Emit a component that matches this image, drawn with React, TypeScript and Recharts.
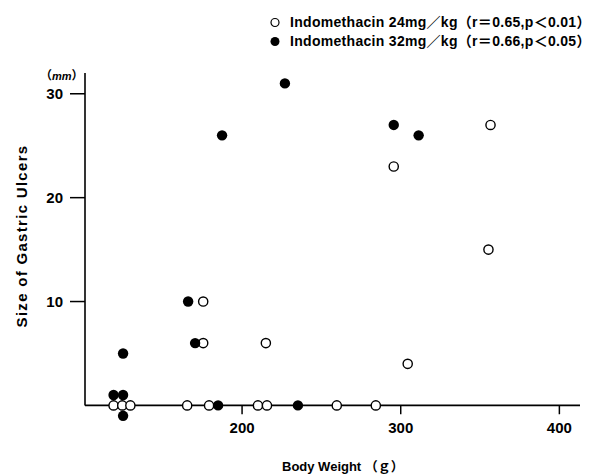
import { ReferenceLine, Scatter, ScatterChart, XAxis, YAxis } from 'recharts';

// body weight (g) / ulcer size (mm)
const weight24 = [119, 124.5, 129.6, 165.4, 179.2, 210, 215.7, 175.5, 215, 175.5, 356.6, 295.6, 355.3, 304.4, 259.7, 284.3];
const ulcer24 = [0, 0, 0, 0, 0, 0, 0, 6, 6, 10, 27, 23, 15, 4, 0, 0];
const weight32 = [125, 119, 125, 125, 170.4, 184.9, 166, 187.4, 227, 295.6, 311.3, 235.2];
const ulcer32 = [5, 1, 1, -1, 6, 0, 10, 26, 31, 27, 26, 0];

const xTicks = [200, 300, 400];
const yTicks = [10, 20, 30];
const xDomain = [101, 413];
const yDomain = [-1.5, 32];

const legend24 = 'Indomethacin 24mg／kg（r＝0.65,p＜0.01）';
const legend32 = 'Indomethacin 32mg／kg（r＝0.66,p＜0.05）';

const dose24 = weight24.map((x, i) => ({ x, y: ulcer24[i] }));
const dose32 = weight32.map((x, i) => ({ x, y: ulcer32[i] }));

const FONT = '"Liberation Sans", Arial, "Noto Sans CJK JP", sans-serif';

const OpenDot = (props: any) => (
  <circle cx={props.cx} cy={props.cy} r={4.6} fill="#fff" stroke="#000" strokeWidth={1.4} />
);
const FilledDot = (props: any) => <circle cx={props.cx} cy={props.cy} r={5.2} fill="#000" />;

function LegendRow({ top, filled, text }: { top: number; filled: boolean; text: string }) {
  return (
    <div
      style={{
        position: 'absolute',
        left: 269,
        top,
        height: 15,
        lineHeight: '15px',
        letterSpacing: 0.3,
        whiteSpace: 'nowrap',
      }}
    >
      <svg width={14} height={15} style={{ verticalAlign: 'top', marginRight: 7 }}>
        {filled ? (
          <circle cx={6} cy={7.5} r={4.5} fill="#000" />
        ) : (
          <circle cx={6} cy={7.5} r={4} fill="#fff" stroke="#000" strokeWidth={1.2} />
        )}
      </svg>
      <span>{text}</span>
    </div>
  );
}

export default function App() {
  const tickStyle = { fill: '#000', fontSize: 15, fontWeight: 700, fontFamily: FONT };
  return (
    <div
      style={{
        position: 'absolute',
        left: 0,
        top: 0,
        width: 590,
        height: 476,
        background: '#fff',
        color: '#000',
        fontFamily: FONT,
        fontWeight: 700,
        fontSize: 14,
        overflow: 'hidden',
      }}
    >
      <ScatterChart width={590} height={476} margin={{ top: 73, right: 10, bottom: 25, left: 0 }}>
        <XAxis
          type="number"
          dataKey="x"
          domain={xDomain}
          ticks={xTicks}
          axisLine={false}
          tickLine={false}
          tickSize={1}
          tickMargin={0}
          height={30}
          tick={tickStyle}
        />
        <YAxis
          type="number"
          dataKey="y"
          domain={yDomain}
          ticks={yTicks}
          width={85}
          axisLine={false}
          stroke="#000"
          tickLine={{ stroke: '#000', strokeWidth: 1.5 }}
          tickSize={15}
          tickMargin={7}
          tick={tickStyle}
        />
        <ReferenceLine y={0} stroke="#000" strokeWidth={1.6} />
        <ReferenceLine
          segment={[
            { x: xDomain[0], y: 0 },
            { x: xDomain[0], y: yDomain[1] },
          ]}
          stroke="#000"
          strokeWidth={1.6}
        />
        {xTicks.map((t) => (
          <ReferenceLine
            key={t}
            segment={[
              { x: t, y: 0 },
              { x: t, y: -0.85 },
            ]}
            stroke="#000"
            strokeWidth={1.5}
          />
        ))}
        <Scatter data={dose24} shape={OpenDot} isAnimationActive={false} />
        <Scatter data={dose32} shape={FilledDot} isAnimationActive={false} />
      </ScatterChart>

      <LegendRow top={15} filled={false} text={legend24} />
      <LegendRow top={34} filled={true} text={legend32} />

      <div style={{ position: 'absolute', left: 40, top: 70, fontSize: 12, lineHeight: '13px', whiteSpace: 'nowrap' }}>
        （<span style={{ fontStyle: 'italic', fontSize: 11 }}>mm</span>）
      </div>

      <div
        style={{
          position: 'absolute',
          left: 21,
          top: 236,
          fontSize: 15,
          letterSpacing: 1.3,
          whiteSpace: 'nowrap',
          transform: 'translate(-50%, -50%) rotate(-90deg)',
        }}
      >
        Size of Gastric Ulcers
      </div>

      <div style={{ position: 'absolute', left: 282, top: 459, fontSize: 13, lineHeight: '15px', whiteSpace: 'nowrap' }}>
        Body Weight （ｇ）
      </div>
    </div>
  );
}
